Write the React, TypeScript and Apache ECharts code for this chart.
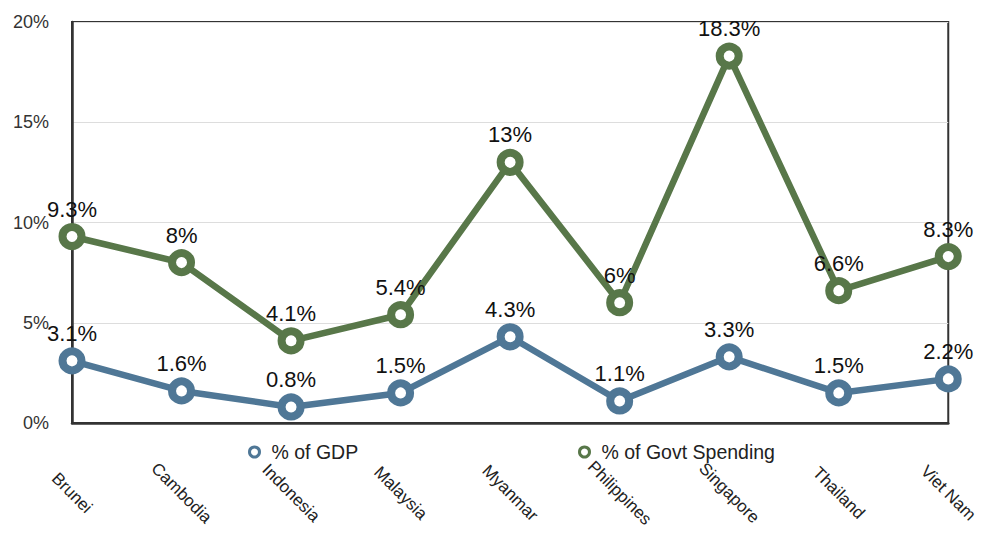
import React, { useEffect, useRef } from "react";
import * as echarts from "echarts";

const categories = ["Brunei", "Cambodia", "Indonesia", "Malaysia", "Myanmar", "Philippines", "Singapore", "Thailand", "Viet Nam"];
const gdpValues = [3.1, 1.6, 0.8, 1.5, 4.3, 1.1, 3.3, 1.5, 2.2];
const govtValues = [9.3, 8, 4.1, 5.4, 13, 6, 18.3, 6.6, 8.3];
const seriesNames = ["% of GDP", "% of Govt Spending"];
const seriesColors = ["#4f7796", "#587749"];

const FONT = "'Liberation Sans', Arial, Helvetica, sans-serif";

export default function App() {
  const ref = useRef<HTMLDivElement>(null);
  useEffect(() => {
    if (!ref.current) return;
    const chart = echarts.init(ref.current, null, { renderer: "svg" });
    const mkSeries = (name: string, data: number[], color: string) => ({
      name,
      type: "line",
      data,
      symbol: "circle",
      symbolSize: 19,
      color,
      lineStyle: { width: 6.5, color },
      itemStyle: { color: "#fff", borderColor: color, borderWidth: 8 },
      label: {
        show: true,
        position: "top",
        distance: 3,
        formatter: "{c}%",
        color: "#111",
        fontSize: 22,
        fontFamily: FONT,
      },
      z: 3,
    });
    const legendBase = {
      top: 437,
      icon: "circle",
      itemWidth: 24,
      itemHeight: 10,
      itemGap: 10,
      textStyle: { fontSize: 19.5, color: "#222", fontFamily: FONT },
    };
    chart.setOption({
      animation: false,
      backgroundColor: "#fff",
      grid: {
        left: 72,
        right: 28,
        top: 22,
        bottom: 111,
        show: true,
        borderColor: "#333",
        borderWidth: 2,
      },
      legend: [
        {
          ...legendBase,
          left: 243,
          data: [seriesNames[0]],
          itemStyle: { color: "#fff", borderColor: seriesColors[0], borderWidth: 3 },
        },
        {
          ...legendBase,
          left: 573,
          data: [seriesNames[1]],
          itemStyle: { color: "#fff", borderColor: seriesColors[1], borderWidth: 3 },
        },
      ],
      xAxis: {
        type: "category",
        data: categories,
        boundaryGap: false,
        axisLine: { show: true, lineStyle: { color: "#333", width: 2.5 } },
        axisTick: { show: false },
        axisLabel: {
          rotate: -45,
          align: "center",
          verticalAlign: "middle",
          margin: 70,
          fontSize: 17,
          color: "#222",
          fontFamily: FONT,
          interval: 0,
        },
        splitLine: { show: false },
      },
      yAxis: {
        type: "value",
        min: 0,
        max: 20,
        interval: 5,
        axisLine: { show: true, lineStyle: { color: "#333", width: 2.5 } },
        axisTick: { show: false },
        axisLabel: {
          formatter: "{value}%",
          margin: 23,
          fontSize: 18,
          color: "#333",
          fontFamily: FONT,
        },
        splitLine: { show: true, lineStyle: { color: "#ddd", width: 1 } },
      },
      series: [
        mkSeries(seriesNames[0], gdpValues, seriesColors[0]),
        mkSeries(seriesNames[1], govtValues, seriesColors[1]),
      ],
    });
    return () => chart.dispose();
  }, []);
  return <div ref={ref} style={{ width: 981, height: 534, position: "fixed", left: 0, top: 0 }} />;
}
